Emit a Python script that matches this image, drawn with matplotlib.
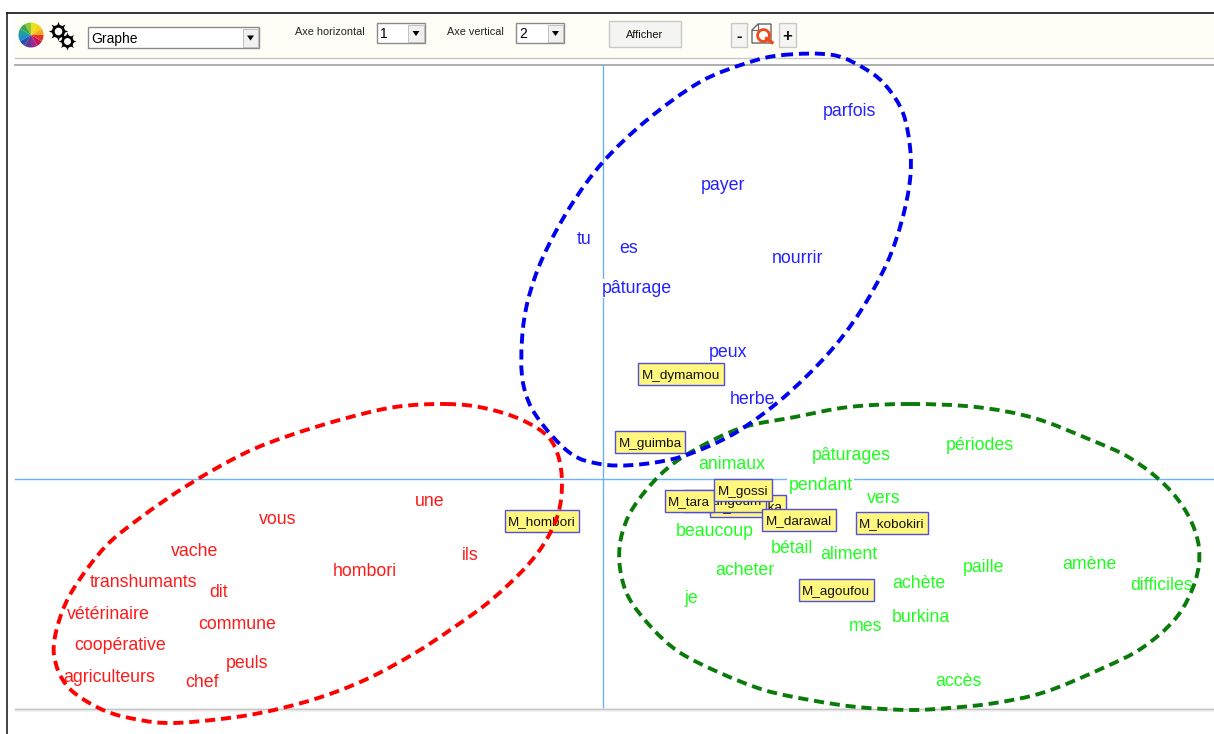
import matplotlib
matplotlib.use("Agg")
import matplotlib.pyplot as plt
from matplotlib.patches import Rectangle, Wedge, PathPatch, Polygon
from matplotlib.path import Path
import numpy as np

plt.rcParams['font.family'] = ['Liberation Sans', 'DejaVu Sans']

W, H = 1214, 734
AXIS_X, AXIS_Y = 603, 479

blue_words = ["parfois", "payer", "tu", "es", "nourrir", "pâturage", "peux", "herbe"]
blue_x = [849, 723, 584, 628, 797, 636, 728, 752]
blue_y = [110, 184, 238, 247, 257, 287, 351, 398]

red_words = ["une", "vous", "vache", "ils", "hombori", "transhumants", "dit", "vétérinaire",
             "commune", "coopérative", "peuls", "agriculteurs", "chef"]
red_x = [429, 277, 194, 470, 364, 143, 218, 108, 237, 120, 247, 109, 202]
red_y = [500, 518, 550, 554, 570, 581, 591, 613, 623, 644, 662, 676, 681]

green_words = ["périodes", "pâturages", "animaux", "pendant", "vers", "beaucoup", "bétail", "aliment",
               "acheter", "paille", "amène", "achète", "difficiles", "je", "burkina", "mes", "accès"]
green_x = [979, 851, 731, 820, 883, 714, 791, 848, 744, 983, 1089, 918, 1161, 691, 920, 865, 958]
green_y = [444, 454, 463, 484, 497, 530, 547, 553, 569, 566, 563, 582, 584, 597, 616, 625, 680]

box_names = ["M_dymamou", "M_guimba", "M_hombori", "M_niafunka", "M_bungoum", "M_tara",
             "M_gossi", "M_darawal", "M_kobokiri", "M_agoufou"]
box_x = [681, 650, 542, 748, 725, 689, 743, 799, 892, 836]
box_y = [374, 442, 521, 506, 501, 501, 490, 520, 523, 590]

blue_ex = [783, 833, 867, 887, 903, 910, 910, 902, 887, 860, 827, 783, 740, 707, 673, 633, 600, 570, 537, 523, 522, 528, 543, 570, 603, 647, 700, 747]
blue_ey = [55, 55, 70, 87, 113, 147, 180, 220, 263, 312, 355, 398, 430, 447, 459, 465, 464, 453, 417, 383, 340, 300, 257, 207, 162, 120, 82, 63]
red_ex = [446, 484, 522, 550, 561, 560, 548, 526, 490, 453, 415, 367, 315, 260, 212, 171, 140, 103, 68, 54, 59, 74, 105, 140, 188, 243, 288, 343, 395]
red_ey = [404, 408, 420, 439, 469, 506, 537, 567, 601, 628, 653, 679, 699, 713, 720, 723, 720, 710, 687, 655, 621, 588, 547, 518, 485, 454, 436, 419, 407]
green_ex = [910, 976, 1034, 1091, 1130, 1165, 1188, 1199, 1195, 1176, 1142, 1103, 1045, 995, 949, 910, 857, 810, 764, 718, 679, 652, 629, 620, 621, 633, 660, 691, 741, 795, 849]
green_ey = [404, 407, 418, 440, 458, 485, 515, 548, 582, 618, 648, 668, 692, 703, 708, 710, 707, 700, 690, 672, 652, 628, 598, 568, 538, 508, 475, 452, 428, 417, 407]

wheel_colors = ["#F7A81B", "#F7D01A", "#E9E21A", "#8CC63F", "#3FA648", "#1FA58E", "#1C8FD0", "#2A4FA8", "#5B3A97", "#9A2A8F", "#C2185A", "#E8332A"]

fig = plt.figure(figsize=(W / 100, H / 100), dpi=100)
ax = fig.add_axes([0, 0, 1, 1])
ax.set_xlim(0, W)
ax.set_ylim(H, 0)
ax.axis("off")


def closed_curve(xs, ys):
    p = np.column_stack([xs, ys]).astype(float)
    n = len(p)
    verts = [p[0]]
    codes = [Path.MOVETO]
    for i in range(n):
        p0, p1, p2, p3 = p[i - 1], p[i], p[(i + 1) % n], p[(i + 2) % n]
        verts += [p1 + (p2 - p0) / 6, p2 - (p3 - p1) / 6, p2]
        codes += [Path.CURVE4] * 3
    return Path(verts, codes)


# window chrome
ax.add_patch(Rectangle((15, 15), W - 15, 43, fc="#FFFEF6", ec="none", zorder=1))
ax.plot([7, W], [13, 13], color="#333333", lw=1.4, zorder=2)
ax.plot([7, 7], [13, H], color="#222222", lw=1.2, zorder=2)
ax.plot([15, W], [57.5, 57.5], color="#C8C8C0", lw=1, zorder=2)
ax.plot([15, W], [64.5, 64.5], color="#A8A8A8", lw=1.3, zorder=2)
ax.add_patch(Rectangle((15, 708), W - 15, 4, fc="#F2F2F2", ec="none", zorder=1))
ax.plot([15, W], [708.5, 708.5], color="#C4C4C4", lw=1, zorder=2)

# plot axes
ax.plot([AXIS_X, AXIS_X], [65, 707], color="#6DB2F7", lw=1, zorder=3)
ax.plot([15, W], [AXIS_Y, AXIS_Y], color="#6DB2F7", lw=1, zorder=3)

# word labels
for words, xs, ys, col in ((blue_words, blue_x, blue_y, "#2222FF"),
                           (red_words, red_x, red_y, "#FF1A1A"),
                           (green_words, green_x, green_y, "#1CFF1C")):
    for w, x, y in zip(words, xs, ys):
        ax.text(x + 0.5, y + 1.5, w, color=col, fontsize=12.8, ha="center", va="center", zorder=4,
                bbox=dict(fc="white", ec="none", pad=0.8))

# individual boxes, sized from their rendered text
renderer = fig.canvas.get_renderer()
for i, (n, x, y) in enumerate(zip(box_names, box_x, box_y)):
    zo = 5 + i * 0.01
    t = ax.text(x, y + 1.5, n, color="#111111", fontsize=9.7, ha="center", va="center", zorder=zo + 0.005)
    w = t.get_window_extent(renderer).width + 7
    ax.add_patch(Rectangle((x - w / 2, y - 11), w, 22, fc="#FFF77E", ec="#5050E0", lw=1, zorder=zo))

# hand-drawn ellipses
for xs, ys, col, zo in ((green_ex, green_ey, "#0A7A0A", 6),
                        (red_ex, red_ey, "#FF0000", 6.1),
                        (blue_ex, blue_ey, "#0000F0", 6.2)):
    ax.add_patch(PathPatch(closed_curve(xs, ys), fc="none", ec=col, lw=2.8,
                           ls=(0, (2.6, 1.5)), zorder=zo))

# toolbar: colour wheel
n = len(wheel_colors)
for i, c in enumerate(wheel_colors):
    ax.add_patch(Wedge((31, 35), 12.5, -360 * (i + 1) / n, -360 * i / n, fc=c, ec="none", zorder=3))

# toolbar: gears
for cx, cy, ms, hole in ((57.5, 31, 14, 5.5), (67, 41, 13, 5)):
    ax.plot([cx], [cy], marker=(8, 1, 0), ms=ms, color="black", mew=0, zorder=3)
    ax.plot([cx], [cy], marker="o", ms=ms * 0.68, color="black", mew=0, zorder=3)
    ax.plot([cx], [cy], marker="o", ms=hole, color="#FFFEF6", mew=0, zorder=3)


def sunken(x, y, w, h):
    ax.add_patch(Rectangle((x, y), w, h, fc="white", ec="#8A8A8A", lw=1, zorder=3))


def arrow_btn(x, y, w, h):
    ax.add_patch(Rectangle((x, y), w, h, fc="#F0F0F0", ec="#B8B8B8", lw=0.6, zorder=4))
    cx, cy = x + w / 2, y + h / 2
    ax.add_patch(Polygon([(cx - 3.5, cy - 2.5), (cx + 3.5, cy - 2.5), (cx, cy + 2.5)], fc="black", ec="none", zorder=5))


def button(x, y, w, h, label, size, weight="normal"):
    ax.add_patch(Rectangle((x, y), w, h, fc="#F4F4F2", ec="#C8C8C8", lw=1, zorder=3))
    ax.text(x + w / 2, y + h / 2 + 1, label, fontsize=size, weight=weight, ha="center", va="center", color="#111111", zorder=4)


sunken(88, 27, 171, 21)
arrow_btn(243, 29, 15, 18)
ax.text(91, 38.5, "Graphe", fontsize=10, va="center", ha="left", color="black", zorder=4)

ax.text(295, 32, "Axe horizontal", fontsize=7.8, va="center", color="#222222", zorder=4)
sunken(377, 23, 48, 20)
arrow_btn(408, 25, 16, 17)
ax.text(380, 34, "1", fontsize=10, va="center", color="black", zorder=4)

ax.text(447, 32, "Axe vertical", fontsize=7.8, va="center", color="#222222", zorder=4)
sunken(516, 23, 48, 20)
arrow_btn(548, 25, 15, 17)
ax.text(519, 34, "2", fontsize=10, va="center", color="black", zorder=4)

button(609, 21, 72, 26, "Afficher", 7.8)
button(731, 23, 16, 24, "-", 12, "bold")
button(779, 23, 17, 24, "+", 12, "bold")

# toolbar: zoom page icon
ax.add_patch(Polygon([(752, 43), (752, 30), (758, 24), (771, 24), (771, 43)], fc="white", ec="#666666", lw=1, zorder=4))
ax.plot([758, 758, 752], [24, 30, 30], color="#666666", lw=0.8, zorder=4)
ax.plot([763], [34.5], marker="o", ms=8.5, mfc="none", mec="#F04A1A", mew=2, zorder=5)
ax.plot([766.5, 772], [38.5, 42.5], color="#F04A1A", lw=2.4, zorder=5)

fig.savefig("out.png", dpi=100, facecolor="white")
